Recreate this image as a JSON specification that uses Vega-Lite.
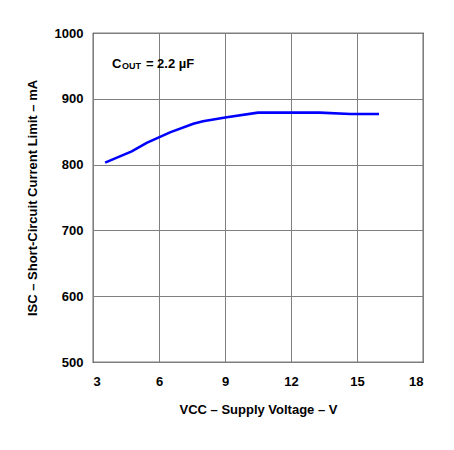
{
  "$schema": "https://vega.github.io/schema/vega-lite/v6.json",
  "autosize": "none",
  "width": 330,
  "height": 329,
  "padding": {"left": 93, "top": 33, "right": 31, "bottom": 88},
  "background": "white",
  "config": {
    "font": "Liberation Sans",
    "view": {"stroke": "#000000", "strokeWidth": 1.2},
    "axis": {
      "grid": true,
      "gridColor": "#7f7f7f",
      "gridWidth": 1,
      "gridOpacity": 1,
      "domain": false,
      "ticks": false,
      "labelFont": "Liberation Sans",
      "labelFontSize": 13,
      "labelFontWeight": "bold",
      "labelColor": "#000000",
      "titleFont": "Liberation Sans",
      "titleFontSize": 13,
      "titleFontWeight": "bold",
      "titleColor": "#000000"
    }
  },
  "layer": [
    {
      "data": {
        "values": [
          {"v": 3.55, "i": 803},
          {"v": 4.76, "i": 820},
          {"v": 5.44, "i": 833},
          {"v": 6.5, "i": 849},
          {"v": 7.56, "i": 862},
          {"v": 8.0, "i": 866},
          {"v": 9.08, "i": 872},
          {"v": 10.5, "i": 879},
          {"v": 13.3, "i": 879},
          {"v": 14.7, "i": 877},
          {"v": 16.0, "i": 877}
        ]
      },
      "mark": {"type": "line", "color": "#0000ff", "strokeWidth": 2.6},
      "encoding": {
        "x": {
          "field": "v",
          "type": "quantitative",
          "scale": {"domain": [3, 18], "nice": false, "zero": false},
          "axis": {"values": [3, 6, 9, 12, 15, 18], "format": "d", "labelPadding": 13, "title": "VCC – Supply Voltage – V", "titlePadding": 15}
        },
        "y": {
          "field": "i",
          "type": "quantitative",
          "scale": {"domain": [500, 1000], "nice": false, "zero": false},
          "axis": {"values": [500, 600, 700, 800, 900, 1000], "format": "d", "labelPadding": 10, "title": "ISC – Short-Circuit Current Limit – mA", "titlePadding": 15}
        }
      }
    },
    {
      "data": {"values": [{"v": 3.86, "i": 953, "t": "C"}]},
      "mark": {"type": "text", "align": "left", "baseline": "middle", "font": "Liberation Sans", "fontSize": 13, "fontWeight": "bold", "color": "#000000"},
      "encoding": {
        "x": {"field": "v", "type": "quantitative"},
        "y": {"field": "i", "type": "quantitative"},
        "text": {"field": "t"}
      }
    },
    {
      "data": {"values": [{"v": 3.86, "i": 953, "t": "OUT"}]},
      "mark": {"type": "text", "align": "left", "baseline": "middle", "dx": 10, "dy": 2, "font": "Liberation Sans", "fontSize": 9, "fontWeight": "bold", "color": "#000000"},
      "encoding": {
        "x": {"field": "v", "type": "quantitative"},
        "y": {"field": "i", "type": "quantitative"},
        "text": {"field": "t"}
      }
    },
    {
      "data": {"values": [{"v": 3.86, "i": 953, "t": "= 2.2 µF"}]},
      "mark": {"type": "text", "align": "left", "baseline": "middle", "dx": 34, "font": "Liberation Sans", "fontSize": 13, "fontWeight": "bold", "color": "#000000"},
      "encoding": {
        "x": {"field": "v", "type": "quantitative"},
        "y": {"field": "i", "type": "quantitative"},
        "text": {"field": "t"}
      }
    }
  ]
}
